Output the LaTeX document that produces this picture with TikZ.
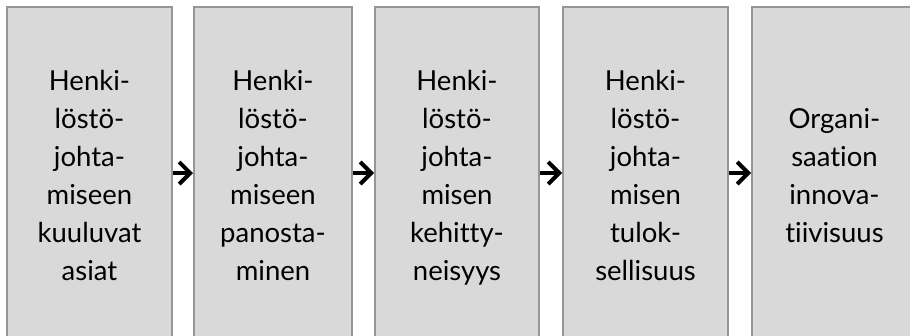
\documentclass[tikz,border=0pt]{standalone}
\usepackage{fontspec}
\setmainfont[Ligatures=NoCommon]{Lato}
\usetikzlibrary{arrows.meta}
\definecolor{boxfill}{HTML}{D9D9D9}
\definecolor{boxedge}{HTML}{969696}
\begin{document}
\begin{tikzpicture}[x=1pt,y=-1pt,
  stage/.style={draw=boxedge, fill=boxfill, line width=2pt, anchor=north west,
    minimum height=336pt, inner sep=0pt, align=center, text depth=0pt,
    font=\fontsize{27.5}{38}\selectfont},
  flow/.style={line width=4pt, -{Straight Barb[length=11pt,width=22pt]}}]
  \useasboundingbox (0,0) rectangle (910,335);
  \clip (0,0) rectangle (910,335);

  % process stages, left to right
  \node[stage, minimum width=165pt] (b1) at (6,6)
    {Henki-\\löstö-\\johta-\\miseen\\kuuluvat\\asiat};
  \node[stage, minimum width=158pt] (b2) at (193,6)
    {Henki-\\löstö-\\johta-\\miseen\\panosta-\\minen};
  \node[stage, minimum width=164pt] (b3) at (374,6)
    {Henki-\\löstö-\\johta-\\misen\\kehitty-\\neisyys};
  \node[stage, minimum width=165pt] (b4) at (562,6)
    {Henki-\\löstö-\\johta-\\misen\\tulok-\\sellisuus};
  \node[stage, minimum width=165pt] (b5) at (751,6)
    {Organi-\\saation\\innova-\\tiivisuus};

  % arrows between stages, slightly above the box centres
  \draw[flow] ([yshift=2pt]b1.east) -- ([yshift=2pt]b2.west);
  \draw[flow] ([yshift=2pt]b2.east) -- ([yshift=2pt]b3.west);
  \draw[flow] ([yshift=2pt]b3.east) -- ([yshift=2pt]b4.west);
  \draw[flow] ([yshift=2pt]b4.east) -- ([yshift=2pt]b5.west);
\end{tikzpicture}
\end{document}
